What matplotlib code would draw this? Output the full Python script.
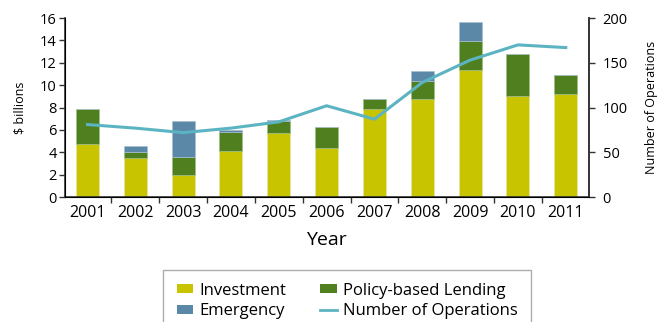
import matplotlib.pyplot as plt
from matplotlib.patches import Patch
from matplotlib.lines import Line2D
import numpy as np

plt.rcParams['font.family'] = ['Open Sans', 'DejaVu Sans']

years = ['2001', '2002', '2003', '2004', '2005', '2006', '2007', '2008', '2009', '2010', '2011']
investment = [4.7, 3.5, 1.95, 4.1, 5.75, 4.35, 7.9, 8.8, 11.4, 9.05, 9.2]
policy = [3.15, 0.52, 1.65, 1.7, 1.07, 1.88, 0.86, 1.6, 2.55, 3.7, 1.72]
emergency = [0.0, 0.55, 3.22, 0.18, 0.06, 0.0, 0.0, 0.85, 1.7, 0.0, 0.0]
operations = [81, 77, 72, 77, 84, 102, 87, 128, 153, 170, 167]

c_inv = '#c8c400'
c_pol = '#4f7f1e'
c_emg = '#5a88a6'
c_ops = '#5cb4c2'

fig = plt.figure(figsize=(6.66, 3.22), dpi=100)
ax = fig.add_axes([0.0976, 0.388, 0.7864, 0.556])
x = np.arange(len(years))
w = 0.48

inv = np.array(investment)
pol = np.array(policy)
emg = np.array(emergency)
ax.bar(x, inv, w, color=c_inv, edgecolor='#e4e6a0', linewidth=0.5)
ax.bar(x, pol, w, bottom=inv, color=c_pol, edgecolor='#9fbf80', linewidth=0.5)
ax.bar(x, emg, w, bottom=inv + pol, color=c_emg, edgecolor='#a8c0d0', linewidth=0.5)

ax.set_xlim(-0.47, 10.48)
ax.set_ylim(0, 16)
ax.set_yticks(range(0, 17, 2))
ax.set_xticks(x)
ax.set_xticklabels(years, fontsize=11.5)
ax.set_xticks(np.arange(0.5, 10, 1), minor=True)
ax.tick_params(axis='x', which='major', length=0, pad=6)
ax.tick_params(axis='x', which='minor', length=4, width=1, color='#333333')
ax.tick_params(axis='y', length=4, width=1, color='#333333', labelsize=10.5, pad=2)
ax.set_ylabel('$ billions', fontsize=9, labelpad=10)
ax.set_xlabel('Year', fontsize=14, labelpad=7)
ax.spines['top'].set_visible(False)
for s in ('left', 'bottom', 'right'):
    ax.spines[s].set_color('#333333')
    ax.spines[s].set_linewidth(1.2)

ax2 = ax.twinx()
ax2.plot(x, operations, color=c_ops, linewidth=2.2)
ax2.set_ylim(0, 200)
ax2.set_yticks(range(0, 201, 50))
ax2.tick_params(axis='y', length=4, width=1, color='#333333', labelsize=10.5, pad=6)
ax2.set_ylabel('Number of Operations', fontsize=9, labelpad=12)
ax2.spines['top'].set_visible(False)
ax2.spines['right'].set_color('#333333')
ax2.spines['right'].set_linewidth(1.2)

handles = [
    Patch(facecolor=c_inv, label='Investment'),
    Patch(facecolor=c_emg, label='Emergency'),
    Patch(facecolor=c_pol, label='Policy-based Lending'),
    Line2D([0], [0], color=c_ops, linewidth=2, label='Number of Operations'),
]
leg = fig.legend(handles=handles, ncol=2, loc='upper left',
                 bbox_to_anchor=(0.245, 0.163), fontsize=12,
                 frameon=True, fancybox=False, edgecolor='#999999',
                 handlelength=1.0, handleheight=0.45, handletextpad=0.4,
                 columnspacing=2.0, labelspacing=0.25, borderpad=0.8,
                 borderaxespad=0)
leg.get_frame().set_linewidth(1.0)

fig.savefig('out.png', dpi=100)
